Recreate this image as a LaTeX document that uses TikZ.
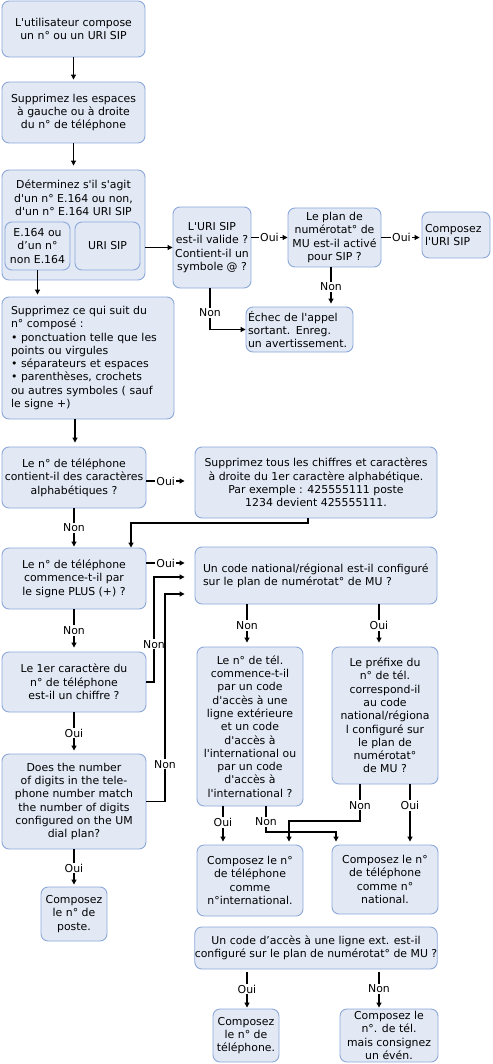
\documentclass[tikz,border=0pt]{standalone}
\usepackage{fontspec}
\setmainfont{DejaVu Sans}[Ligatures=TeXOff]
\usetikzlibrary{arrows.meta}
\definecolor{bfill}{HTML}{E2E9F5}
\definecolor{bdraw}{HTML}{8CA8DA}
\newcommand\fs{\fontsize{10.9}{13.3}\selectfont}
\tikzset{
 box/.style={draw=bdraw, fill=bfill, rounded corners=7pt, line width=0.9pt, inner sep=0pt, align=center, font=\fs},
 arr/.style={draw=black, line width=1.1pt, -{Triangle[length=5pt,width=5pt]}},
 lab/.style={fill=white, inner sep=1pt, font=\fs},
}
\begin{document}
\begin{tikzpicture}[x=1pt,y=-1pt]
\useasboundingbox (0,0) rectangle (492,1064);
% boxes
\node[box, minimum width=143, minimum height=56] (b1) at (73.5,29) {L'utilisateur compose\\un n° ou un URI SIP};
\node[box, minimum width=143, minimum height=61] (b2) at (73.5,112.5) {Supprimez les espaces\\à gauche ou à droite\\du n° de téléphone};
\node[box, minimum width=143, minimum height=110] (b3) at (73.5,225) {};
\node[font=\fs, align=center, inner sep=0pt] (b3t) at (73.5,198) {Déterminez s'il s'agit\\d'un n° E.164 ou non,\\d'un n° E.164 URI SIP};
\node[box, minimum width=65, minimum height=48] (b3a) at (37.5,246) {E.164 ou\\d’un n°\\non E.164};
\node[box, minimum width=65, minimum height=48] (b3b) at (107.5,246) {URI SIP};
\node[box, minimum width=78, minimum height=81] (uri) at (212,247.5) {L'URI SIP\\est-il valide ?\\Contient-il un\\symbole @ ?};
\node[box, minimum width=93, minimum height=59] (plan) at (334.5,237.5) {Le plan de\\numérotat° de\\MU est-il activé\\pour SIP ?};
\node[box, minimum width=68, minimum height=46, align=left, inner xsep=3pt, text width=62pt] (curi) at (456,235) {Composez\\l'URI SIP};
\node[box, minimum width=107, minimum height=45, align=left, inner xsep=2pt, text width=103pt] (echec) at (299.5,329.5) {Échec de l'appel\\sortant. Enreg.\\un avertissement.};
\node[box, minimum width=172, minimum height=122, align=left, inner xsep=9pt, text width=154pt] (b4) at (88,358) {Supprimez ce qui suit du\\n° composé :\\• ponctuation telle que les\\points ou virgules\\• séparateurs et espaces\\• parenthèses, crochets\\ou autres symboles ( sauf\\le signe +)};
\node[box, minimum width=144, minimum height=61] (b5) at (74,477.5) {Le n° de téléphone\\contient-il des caractères\\alphabétiques ?};
\node[box, minimum width=242, minimum height=71] (b6) at (316,482.5) {Supprimez tous les chiffres et caractères\\à droite du 1er caractère alphabétique.\\Par exemple : 425555111 poste\\1234 devient 425555111.};
\node[box, minimum width=144, minimum height=61] (b7) at (74,578.5) {Le n° de téléphone\\commence-t-il par\\le signe PLUS (+) ?};
\node[box, minimum width=242, minimum height=57, align=left, inner xsep=8pt, text width=226pt] (b8) at (316,575.5) {Un code national/régional est-il configuré\\sur le plan de numérotat° de MU ?};
\node[box, minimum width=144, minimum height=60] (b9) at (74,682) {Le 1er caractère du\\n° de téléphone\\est-il un chiffre ?};
\node[box, minimum width=144, minimum height=95] (b10) at (74,801.5) {Does the number\\of digits in the tele-\\phone number match\\the number of digits\\configured on the UM\\dial plan?};
\node[box, minimum width=66, minimum height=54] (b11) at (74,914) {Composez\\le n° de\\poste.};
\node[box, minimum width=106, minimum height=159] (b12) at (250,726.5) {Le n° de tél.\\commence-t-il\\par un code\\d'accès à une\\ligne extérieure\\et un code\\d'accès à\\l'international ou\\par un code\\d'accès à\\l'international ?};
\node[box, minimum width=106, minimum height=137] (b13) at (385,715.5) {Le préfixe du\\n° de tél.\\correspond-il\\au code\\national/régiona\\l configuré sur\\le plan de\\numérotat°\\de MU ?};
\node[box, minimum width=106, minimum height=71] (b14) at (250,880.5) {Composez le n°\\de téléphone\\comme\\n°international.};
\node[box, minimum width=106, minimum height=69] (b15) at (385,879.5) {Composez le n°\\de téléphone\\comme n°\\national.};
\node[box, minimum width=242, minimum height=42] (b16) at (316,948) {Un code d’accès à une ligne ext. est-il\\configuré sur le plan de numérotat° de MU ?};
\node[box, minimum width=66, minimum height=53] (b17) at (246,1035.5) {Composez\\le n° de\\téléphone.};
\node[box, minimum width=98, minimum height=53] (b18) at (389,1035.5) {Composez le\\n°. de tél.\\mais consignez\\un évén.};
% connectors
\draw[arr, shorten >=2pt] (b1) -- (b2);
\draw[arr, shorten >=4pt] (b2) -- (b3);
\draw[arr] (uri.west -| b3.east) -- (uri.west);
\draw[arr, shorten >=2pt] (b3a.south) -- (b3a.south |- b4.north);
\draw[arr] (uri.east |- plan.west) -- node[lab]{Oui} (plan.west);
\draw[arr, shorten >=2pt] (plan.east) -- node[lab]{Oui} (plan.east -| curi.west);
\draw[arr, shorten >=3pt] (331,0 |- plan.south) -- node[lab]{Non} (331,0 |- echec.north);
\draw[arr] (210,0 |- uri.south) |- node[lab, pos=0.3]{Non} (echec.west);
\draw[arr, shorten >=4pt] (75,0 |- b4.south) -- (75,0 |- b5.north);
\draw[arr, shorten >=1pt] (b5) -- node[lab]{Non} (b7);
\draw[arr, shorten >=10pt] (b5.east |- 0,481) -- node[lab, pos=0.4]{Oui} (b6.west |- 0,481);
\draw[arr] (308,0 |- b6.south) -- (308,523) -| (131,0 |- b7.north);
\draw[arr, shorten >=10pt] (b7.east |- 0,563) -- node[lab, pos=0.4]{Oui} (b8.west |- 0,563);
\draw[arr, shorten >=10pt] (b9.east) -| node[lab, pos=0.68]{Non} (154,577) -- (b8.west |- 154,577);
\draw[arr, shorten >=10pt] (b10.east) -| node[lab, pos=0.59]{Non} (165,594) -- (b8.west |- 165,594);
\draw[arr, shorten >=4pt] (b7) -- node[lab]{Non} (b9);
\draw[arr, shorten >=3pt] (b9) -- node[lab]{Oui} (b10);
\draw[arr, shorten >=2pt] (b10) -- node[lab]{Oui} (b11);
\draw[arr, shorten >=4pt] (247,0 |- b8.south) -- node[lab]{Non} (247,0 |- b12.north);
\draw[arr, shorten >=4pt] (379,0 |- b8.south) -- node[lab]{Oui} (379,0 |- b13.north);
\draw[arr, shorten >=3pt] (223,0 |- b12.south) -- node[lab, pos=0.42]{Oui} (223,0 |- b14.north);
\draw[arr, shorten >=3pt] (266,0 |- b12.south) -- node[lab, pos=0.6]{Non} (266,832) -| (336,0 |- b15.north);
\draw[arr, shorten >=3pt] (360,0 |- b13.south) -- node[lab, pos=0.57]{Non} (360,821) -| (289,0 |- b14.north);
\draw[arr, shorten >=3pt] (410,0 |- b13.south) -- node[lab, pos=0.35]{Oui} (410,0 |- b15.north);
\draw[arr, shorten <=3pt, shorten >=1pt] (247,0 |- b16.south) -- node[lab]{Oui} (247,0 |- b17.north);
\draw[arr, shorten <=3pt, shorten >=1pt] (379,0 |- b16.south) -- node[lab]{Non} (379,0 |- b18.north);
\end{tikzpicture}
\end{document}
